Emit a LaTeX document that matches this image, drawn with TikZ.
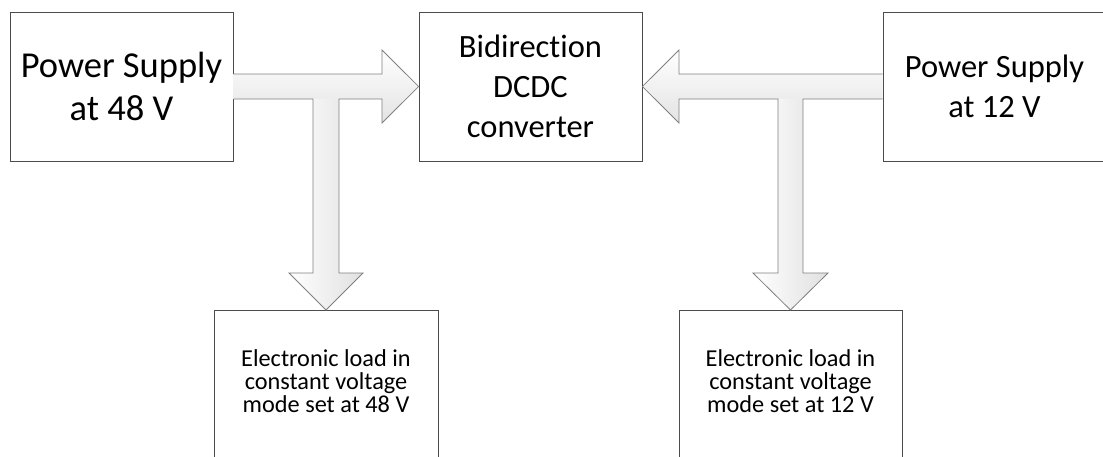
\documentclass[tikz,border=0pt]{standalone}
\usepackage{fontspec}
\setmainfont[Ligatures=NoCommon]{Carlito}
\usetikzlibrary{shadows}
\begin{document}
\begin{tikzpicture}[x=1pt,y=-1pt,
  blockbox/.style={draw=black!70, line width=0.8pt, fill=white, minimum width=223pt, minimum height=149pt, inner sep=0pt, align=center,
    drop shadow={shadow xshift=1.2pt, shadow yshift=-1.2pt, opacity=0.25, fill=black!50}},
  bigtext/.style={font=\fontsize{36.5}{43}\selectfont},
  midtext/.style={font=\fontsize{32.5}{40}\selectfont},
  loadtext/.style={font=\fontsize{24.3}{23}\selectfont, align=center, inner sep=0pt},
  hshade/.style={top color=white, bottom color=black!11},
  vshade/.style={left color=white, right color=black!12},
  arrowline/.style={draw=black!50, line width=0.8pt, line join=miter}
]
\useasboundingbox (0,0) rectangle (1103,456);
\clip (0,0) rectangle (1103,456);

% blocks
\node[blockbox, bigtext] (ps48) at (121.5,86.5) {Power Supply\\at 48 V};
\node[blockbox, midtext] (conv) at (530.5,86.5) {Bidirection\\DCDC\\converter};
\node[blockbox, midtext] (ps12) at (994.5,86.5) {Power Supply\\at 12 V};
\node[blockbox, minimum width=224pt, minimum height=180pt, anchor=north] (l48) at (326,310) {};
\node[blockbox, minimum width=223pt, minimum height=180pt, anchor=north] (l12) at (790.5,310) {};
\node[loadtext] (l48t) at (326,381) {Electronic load in\\constant voltage\\mode set at 48 V};
\node[loadtext] (l12t) at (790.5,381) {Electronic load in\\constant voltage\\mode set at 12 V};

% block arrows: 48 V supply -> converter and -> 48 V load
\path[hshade] (ps48.east |- 0,74) -- (382,74) -- (382,50) -- (conv.west) -- (382,123) -- (382,99) -- (ps48.east |- 0,99) -- cycle;
\path[vshade] (313,99) -- (339,99) -- (339,273) -- (363,273) -- (l48.north) -- (289,273) -- (313,273) -- cycle;
\path[arrowline] (ps48.east |- 0,74) -- (382,74) -- (382,50) -- (conv.west) -- (382,123) -- (382,99)
  -- (339,99) -- (339,273) -- (363,273) -- (l48.north) -- (289,273) -- (313,273) -- (313,99) -- (ps48.east |- 0,99);

% block arrows: 12 V supply -> converter and -> 12 V load
\path[hshade] (ps12.west |- 0,74) -- (679,74) -- (679,50) -- (conv.east) -- (679,123) -- (679,99) -- (ps12.west |- 0,99) -- cycle;
\path[vshade] (778,99) -- (803,99) -- (803,273) -- (828,273) -- (l12.north) -- (753,273) -- (778,273) -- cycle;
\path[arrowline] (ps12.west |- 0,74) -- (679,74) -- (679,50) -- (conv.east) -- (679,123) -- (679,99)
  -- (778,99) -- (778,273) -- (753,273) -- (l12.north) -- (828,273) -- (803,273) -- (803,99) -- (ps12.west |- 0,99);
\end{tikzpicture}
\end{document}
